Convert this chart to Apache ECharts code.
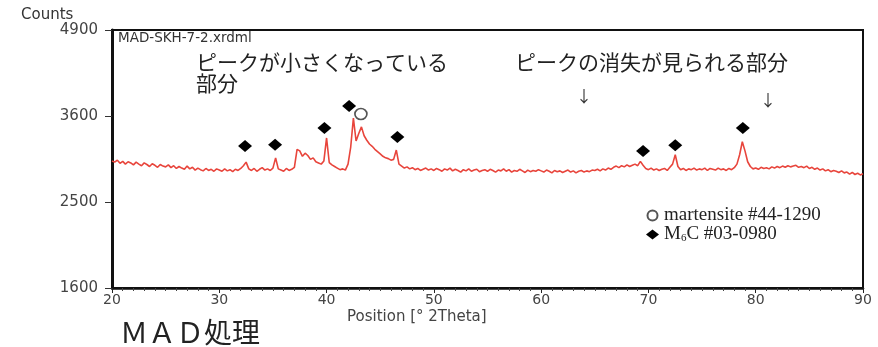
<!DOCTYPE html>
<html>
<head>
<meta charset="utf-8">
<script src="https://cdn.jsdelivr.net/npm/echarts@6/dist/echarts.min.js"></script>
<style>
  html, body { margin: 0; padding: 0; background: #fff; }
  #main { width: 878px; height: 347px; }
</style>
</head>
<body>
<div id="main"></div>
<script>
// 2Theta grid (0.25 deg step) and counts
const thetaStart = 20
const thetaStep = 0.25
const counts = [
  // 20 - 24.75
  3000, 2985, 3010, 2970, 2995, 2960, 2990, 2975, 2950, 2985, 2960, 2940, 2975, 2955, 2930, 2965, 2945, 2920, 2955, 2935,
  // 25 - 29.75
  2925, 2950, 2915, 2940, 2905, 2930, 2910, 2895, 2935, 2900, 2920, 2885, 2910, 2890, 2875, 2905, 2880, 2895, 2870, 2900,
  // 30 - 34.75
  2885, 2870, 2900, 2875, 2890, 2865, 2895, 2880, 2905, 2940, 2985, 2900, 2880, 2905, 2870, 2895, 2915, 2885, 2900, 2880,
  // 35 - 39.75
  2910, 3040, 2900, 2885, 2870, 2905, 2880, 2895, 2920, 3150, 3130, 3060, 3100, 3070, 3020, 3040, 2990, 2975, 2960, 3000,
  // 40 - 44.75
  3300, 2980, 2950, 2930, 2910, 2890, 2900, 2885, 2960, 3180, 3570, 3260, 3360, 3450, 3330, 3270, 3220, 3190, 3150, 3120,
  // 45 - 49.75
  3090, 3060, 3040, 3030, 3010, 3020, 3140, 2960, 2935, 2910, 2925, 2900, 2915, 2890, 2905, 2880, 2895, 2910, 2885, 2900,
  // 50 - 54.75
  2880, 2905, 2890, 2870, 2900, 2885, 2910, 2875, 2895, 2880, 2860, 2890, 2875, 2900, 2870, 2885, 2895, 2865, 2880, 2890,
  // 55 - 59.75
  2870, 2895, 2880, 2860, 2885, 2875, 2900, 2870, 2890, 2860, 2880, 2870, 2895, 2875, 2855, 2885, 2865, 2880, 2870, 2890,
  // 60 - 64.75
  2875, 2860, 2885, 2870, 2850, 2880, 2865, 2875, 2855, 2870, 2885, 2860, 2875, 2850, 2870, 2880, 2860, 2875, 2865, 2885,
  // 65 - 69.75
  2880, 2895, 2875, 2900, 2885, 2910, 2895, 2920, 2935, 2915, 2940, 2925, 2950, 2930, 2945, 2960, 2940, 2995, 2945, 2905,
  // 70 - 74.75
  2890, 2910, 2885, 2900, 2880, 2895, 2905, 2880, 2920, 2960, 3080, 2930, 2890, 2905, 2880, 2900, 2890, 2910, 2885, 2900,
  // 75 - 79.75
  2890, 2910, 2880, 2905, 2895, 2885, 2910, 2890, 2900, 2880, 2905, 2890, 2915, 2960, 3080, 3250, 3130, 2990, 2930, 2900,
  // 80 - 84.75
  2910, 2895, 2920, 2905, 2915, 2900, 2925, 2910, 2930, 2915, 2935, 2920, 2940, 2925, 2935, 2945, 2920, 2930, 2915, 2935,
  // 85 - 90
  2905, 2920, 2895, 2910, 2885, 2900, 2875, 2890, 2865, 2880, 2870, 2855, 2875, 2850, 2860, 2835, 2855, 2830, 2845, 2825,
  2840
]

// peak markers
const m6cTheta = [32.4, 35.2, 39.8, 42.1, 46.6, 69.5, 72.5, 78.8]
const m6cCounts = [3195, 3210, 3435, 3740, 3313, 3128, 3203, 3435]
const martTheta = [43.2]
const martCounts = [3628]

// y tick labels (counts), axis is square-root scaled
const yTicks = [1600, 2500, 3600, 4900]

const toAxis = (c) => Math.sqrt(c)
const pattern = counts.map((c, i) => [thetaStart + i * thetaStep, toAxis(c)])
const m6c = m6cTheta.map((t, i) => [t, toAxis(m6cCounts[i])])
const mart = martTheta.map((t, i) => [t, toAxis(martCounts[i])])

const myChart = echarts.init(document.getElementById('main'))
const sans = 'DejaVu Sans'
const jp = 'Noto Sans CJK JP'

const option = {
  backgroundColor: '#fff',
  animation: false,
  grid: {
    left: 112,
    right: 15,
    top: 30,
    bottom: 59,
    show: true,
    borderColor: '#111',
    borderWidth: 2
  },
  xAxis: {
    type: 'value',
    min: 20,
    max: 90,
    interval: 10,
    axisLine: { show: true, lineStyle: { color: '#111', width: 2.5 } },
    axisTick: { show: true, length: 5, lineStyle: { color: '#222' } },
    minorTick: { show: true, splitNumber: 10, length: 3, lineStyle: { color: '#444' } },
    splitLine: { show: false },
    axisLabel: { margin: 5, fontFamily: sans, fontSize: 14, color: '#444' }
  },
  yAxis: {
    type: 'value',
    min: toAxis(yTicks[0]),
    max: toAxis(yTicks[yTicks.length - 1]),
    interval: 10,
    axisLine: { show: true, lineStyle: { color: '#111', width: 3 } },
    axisTick: { show: true, length: 7, lineStyle: { color: '#333' } },
    splitLine: { show: false },
    axisLabel: {
      margin: 14,
      fontFamily: sans,
      fontSize: 15,
      color: '#444',
      formatter: (v) => String(Math.round(v * v))
    }
  },
  legend: {
    orient: 'vertical',
    left: 641,
    top: 201,
    itemWidth: 13,
    itemHeight: 10,
    itemGap: 0,
    data: ['martensite #44-1290', 'M6C #03-0980'],
    formatter: (name) => name.replace('M6C', 'M{sub|6}C'),
    textStyle: {
      fontFamily: 'Liberation Serif',
      fontSize: 19,
      lineHeight: 18,
      color: '#222',
      rich: {
        sub: { fontFamily: 'Liberation Serif', fontSize: 11, lineHeight: 18, padding: [7, 0, 0, 0], color: '#222' }
      }
    }
  },
  series: [
    {
      name: 'pattern',
      type: 'line',
      data: pattern,
      symbol: 'none',
      lineStyle: { color: '#e8453c', width: 1.6 },
      z: 2
    },
    {
      name: 'martensite #44-1290',
      type: 'scatter',
      data: mart,
      symbol: 'circle',
      symbolSize: [12, 11],
      itemStyle: { color: '#fff', borderColor: '#555', borderWidth: 1.6, opacity: 1 },
      z: 3
    },
    {
      name: 'M6C #03-0980',
      type: 'scatter',
      data: m6c,
      symbol: 'diamond',
      symbolSize: [14, 12],
      itemStyle: { color: '#000', opacity: 1 },
      z: 3
    }
  ],
  graphic: [
    { type: 'text', left: 21, top: 8, style: { text: 'Counts', fontFamily: sans, fontSize: 15, fill: '#333' } },
    { type: 'text', left: 118, top: 31, style: { text: 'MAD-SKH-7-2.xrdml', fontFamily: sans, fontSize: 13.5, fill: '#333' } },
    { type: 'text', left: 196, top: 52, style: { text: 'ピークが小さくなっている\n部分', fontFamily: jp, fontSize: 21, lineHeight: 21, fill: '#222' } },
    { type: 'text', left: 515, top: 52, style: { text: 'ピークの消失が見られる部分', fontFamily: jp, fontSize: 21, fill: '#222' } },
    { type: 'text', left: 576, top: 88, style: { text: '↓', fontFamily: jp, fontSize: 16, fill: '#333' } },
    { type: 'text', left: 760, top: 92, style: { text: '↓', fontFamily: jp, fontSize: 16, fill: '#333' } },
    { type: 'text', left: 347, top: 310, style: { text: 'Position [° 2Theta]', fontFamily: sans, fontSize: 15, fill: '#444' } },
    { type: 'text', left: 120, top: 318, style: { text: 'ＭＡＤ処理', fontFamily: jp, fontSize: 28, fill: '#222' } }
  ]
}
myChart.setOption(option)
</script>
</body>
</html>
